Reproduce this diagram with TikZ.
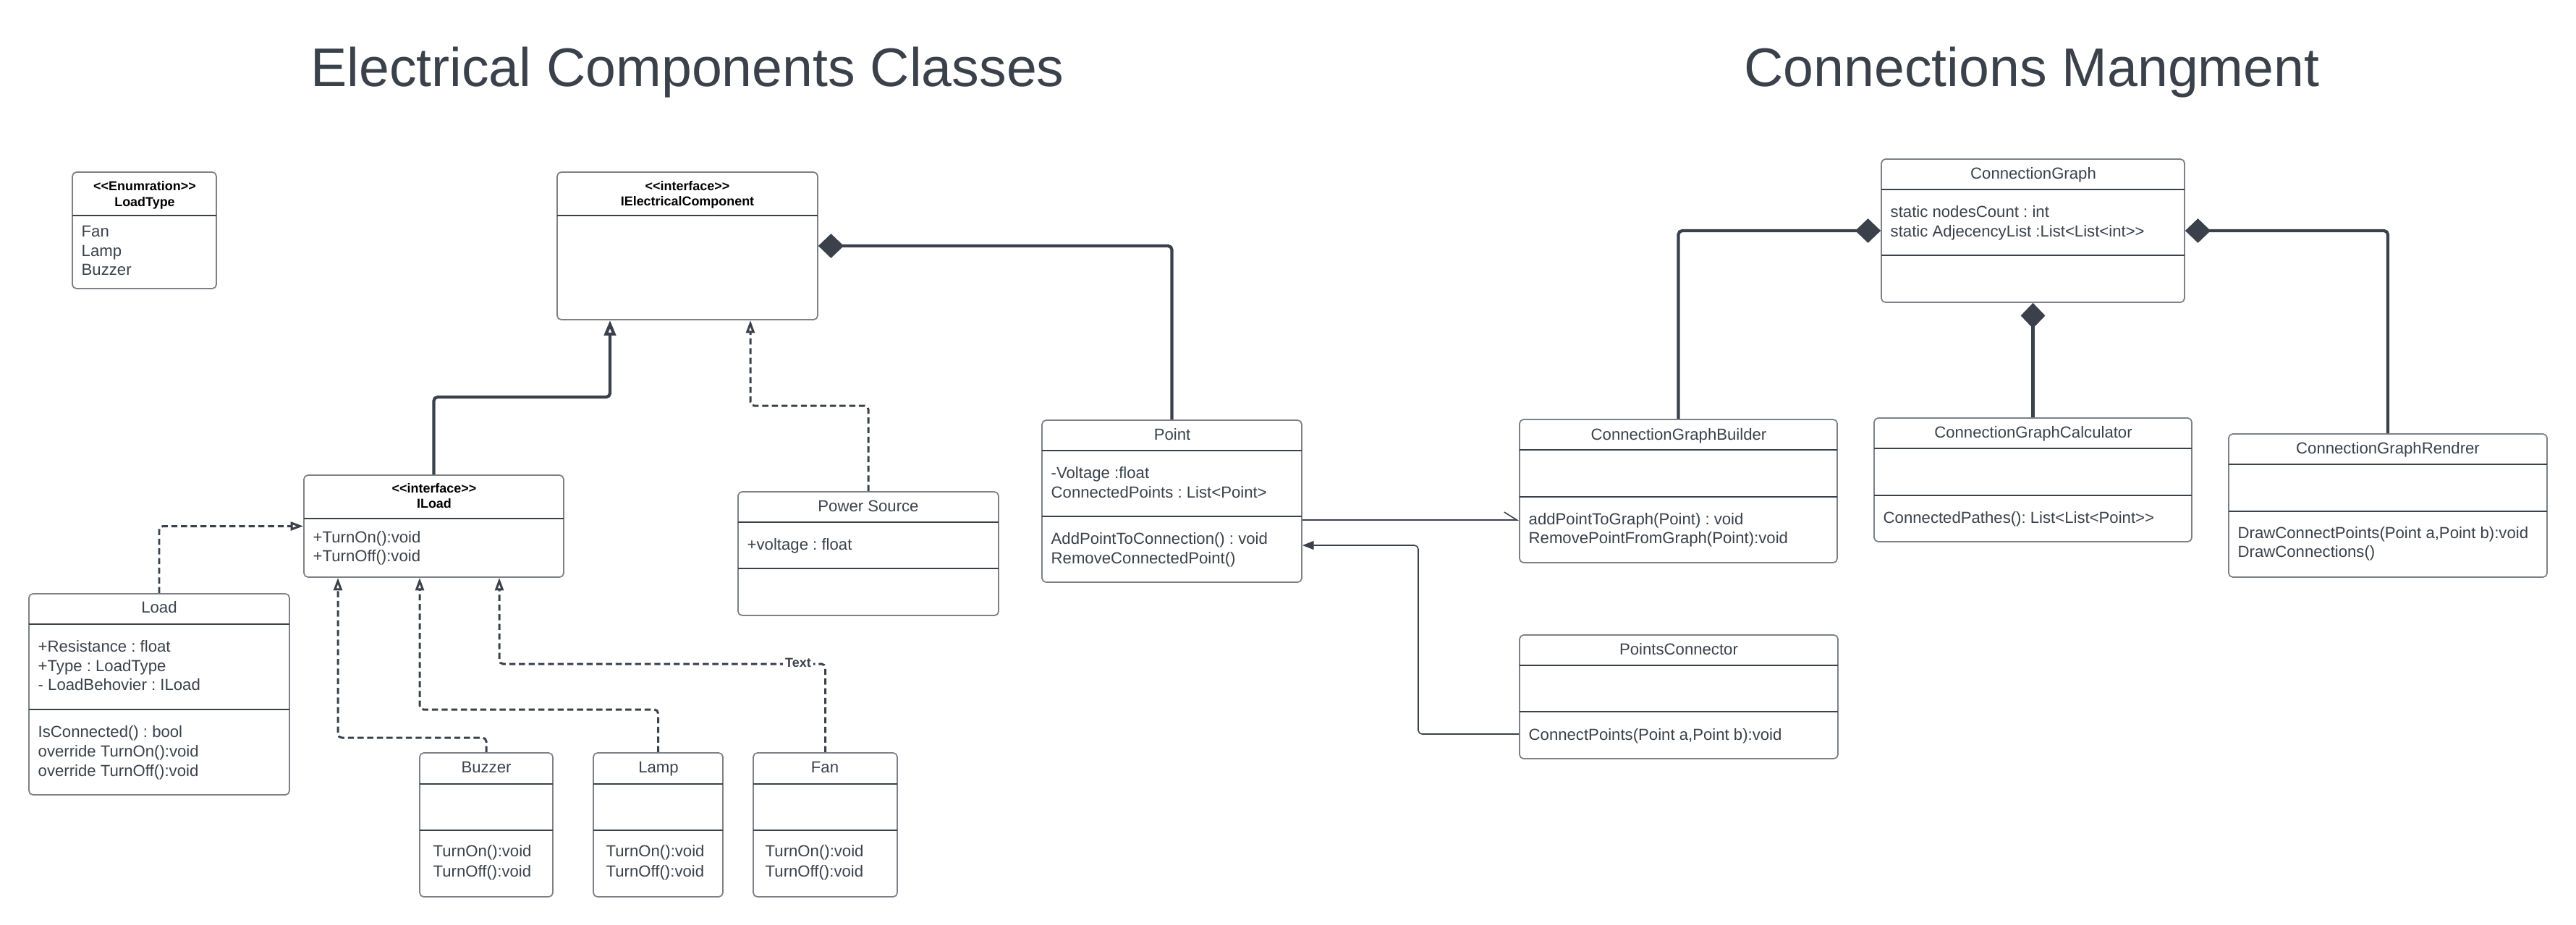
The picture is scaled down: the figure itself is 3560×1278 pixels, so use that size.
\documentclass[tikz,border=0pt]{standalone}
\usepackage{fontspec}
\newfontfamily\umlfont{Liberation Sans}
\usepackage{tikz}
\usetikzlibrary{arrows.meta}
\usetikzlibrary{fit}

\definecolor{umldark}{HTML}{3A414A}
\definecolor{umlgray}{HTML}{7D8187}

\tikzset{
  classbox/.style={draw=umlgray, line width=0.5pt, rounded corners=1.6pt, inner sep=0pt},
  divider/.style={draw=umldark, line width=0.45pt},
  ctitle/.style={font=\umlfont\frenchspacing\fontsize{6.3}{7.5}\selectfont, text=umldark, inner sep=0pt, anchor=base},
  member/.style={ctitle, anchor=base west},
  stereo/.style={font=\umlfont\bfseries\fontsize{5.1}{6}\selectfont, text=black, inner sep=0pt, anchor=base},
  heading/.style={font=\umlfont\fontsize{21.4}{25}\selectfont, text=umldark, inner sep=0pt, anchor=base},
  gen/.style={draw=umldark, line width=1.2pt, rounded corners=1.5pt, -{Triangle[open, length=6pt, width=4.6pt, fill=white]}},
  real/.style={draw=umldark, line width=0.85pt, dash pattern=on 2.4pt off 1.4pt, rounded corners=1.5pt, -{Triangle[open, length=5pt, width=3.4pt, fill=white]}},
  comp/.style={draw=umldark, line width=1.2pt, rounded corners=1.5pt, -{Diamond[length=10pt, width=9.6pt]}},
  assoc/.style={draw=umldark, line width=0.45pt, -{Straight Barb[left, length=5pt, width=6.2pt]}},
  dep/.style={draw=umldark, line width=0.45pt, rounded corners=1.5pt, -{Triangle[length=4.5pt, width=3.4pt]}},
}

\begin{document}
\begin{tikzpicture}[x=0.01cm, y=-0.01cm]
\useasboundingbox (0,0) rectangle (3560,1278);
\fill[white] (0,0) rectangle (3560,1278);

\node[heading] (T1) at (950,119) {Electrical Components Classes};
\node[heading] (T2) at (2808,119) {Connections Mangment};

% LoadType
\node[classbox, fit={(100,238) (299,399)}] (LoadType) {};
\draw[divider] (100,298) -- (299,298);
\node[stereo] (LoadTypeS) at (200,263) {<<Enumration>>};
\node[stereo] (LoadTypeN) at (200,285) {LoadType};
\node[member] (LoadType1) at (112,327) {Fan};
\node[member] (LoadType2) at (112,354) {Lamp};
\node[member] (LoadType3) at (112,380) {Buzzer};

% IElectricalComponent
\node[classbox, fit={(770,238) (1130,442)}] (IEC) {};
\draw[divider] (770,298) -- (1130,298);
\node[stereo] (IECS) at (950,263) {<<interface>>};
\node[stereo] (IECN) at (950,284) {IElectricalComponent};

% ILoad
\node[classbox, fit={(420,657) (779,798)}] (ILoad) {};
\draw[divider] (420,717) -- (779,717);
\node[stereo] (ILoadS) at (600,681) {<<interface>>};
\node[stereo] (ILoadN) at (600,702) {ILoad};
\node[member] (ILoad1) at (432,750) {+TurnOn():void};
\node[member] (ILoad2) at (432,776) {+TurnOff():void};

% Load
\node[classbox, fit={(40,821) (400,1099)}] (Load) {};
\draw[divider] (40,863) -- (400,863);
\draw[divider] (40,981) -- (400,981);
\node[ctitle] (LoadN) at (220,847) {Load};
\node[member] (Load1) at (52,901) {+Resistance : float};
\node[member] (Load2) at (52,928) {+Type : LoadType};
\node[member] (Load3) at (52,954) {- LoadBehovier : ILoad};
\node[member] (Load4) at (52,1019) {IsConnected() : bool};
\node[member] (Load5) at (52,1046) {override TurnOn():void};
\node[member] (Load6) at (52,1073) {override TurnOff():void};

% Power Source
\node[classbox, fit={(1020,680) (1380,851)}] (PS) {};
\draw[divider] (1020,722) -- (1380,722);
\draw[divider] (1020,786) -- (1380,786);
\node[ctitle] (PSN) at (1200,707) {Power Source};
\node[member] (PS1) at (1032,760) {+voltage : float};

% Point
\node[classbox, fit={(1440,581) (1799,805)}] (Point) {};
\draw[divider] (1440,623) -- (1799,623);
\draw[divider] (1440,714) -- (1799,714);
\node[ctitle] (PointN) at (1620,608) {Point};
\node[member] (Point1) at (1452,661) {-Voltage :float};
\node[member] (Point2) at (1452,688) {ConnectedPoints : List<Point>};
\node[member] (Point3) at (1452,752) {AddPointToConnection() : void};
\node[member] (Point4) at (1452,779) {RemoveConnectedPoint()};

% Buzzer
\node[classbox, fit={(580,1041) (764,1240)}] (Buzzer) {};
\draw[divider] (580,1084) -- (764,1084);
\draw[divider] (580,1148) -- (764,1148);
\node[ctitle] (BuzzerN) at (672,1068) {Buzzer};
\node[member] (Buzzer1) at (598,1184) {TurnOn():void};
\node[member] (Buzzer2) at (598,1212) {TurnOff():void};

% Lamp
\node[classbox, fit={(820,1041) (999,1240)}] (Lamp) {};
\draw[divider] (820,1084) -- (999,1084);
\draw[divider] (820,1148) -- (999,1148);
\node[ctitle] (LampN) at (910,1068) {Lamp};
\node[member] (Lamp1) at (837,1184) {TurnOn():void};
\node[member] (Lamp2) at (837,1212) {TurnOff():void};

% Fan
\node[classbox, fit={(1041,1041) (1240,1240)}] (Fan) {};
\draw[divider] (1041,1084) -- (1240,1084);
\draw[divider] (1041,1148) -- (1240,1148);
\node[ctitle] (FanN) at (1140,1068) {Fan};
\node[member] (Fan1) at (1057,1184) {TurnOn():void};
\node[member] (Fan2) at (1057,1212) {TurnOff():void};

% ConnectionGraph
\node[classbox, fit={(2600,220) (3019,418)}] (CG) {};
\draw[divider] (2600,262) -- (3019,262);
\draw[divider] (2600,353) -- (3019,353);
\node[ctitle] (CGN) at (2810,247) {ConnectionGraph};
\node[member] (CG1) at (2612,300) {static nodesCount : int};
\node[member] (CG2) at (2612,327) {static AdjecencyList :List<List<int>>};

% ConnectionGraphBuilder
\node[classbox, fit={(2100,580) (2539,778)}] (Builder) {};
\draw[divider] (2100,622) -- (2539,622);
\draw[divider] (2100,687) -- (2539,687);
\node[ctitle] (BuilderN) at (2320,608) {ConnectionGraphBuilder};
\node[member] (Builder1) at (2112,725) {addPointToGraph(Point) : void};
\node[member] (Builder2) at (2112,751) {RemovePointFromGraph(Point):void};

% ConnectionGraphCalculator
\node[classbox, fit={(2590,578) (3029,749)}] (Calc) {};
\draw[divider] (2590,620) -- (3029,620);
\draw[divider] (2590,685) -- (3029,685);
\node[ctitle] (CalcN) at (2810,605) {ConnectionGraphCalculator};
\node[member] (Calc1) at (2602,723) {ConnectedPathes(): List<List<Point>>};

% ConnectionGraphRendrer
\node[classbox, fit={(3080,600) (3520,798)}] (Rend) {};
\draw[divider] (3080,642) -- (3520,642);
\draw[divider] (3080,707) -- (3520,707);
\node[ctitle] (RendN) at (3300,627) {ConnectionGraphRendrer};
\node[member] (Rend1) at (3092,744) {DrawConnectPoints(Point a,Point b):void};
\node[member] (Rend2) at (3092,770) {DrawConnections()};

% PointsConnector
\node[classbox, fit={(2100,878) (2540,1049)}] (PC) {};
\draw[divider] (2100,920) -- (2540,920);
\draw[divider] (2100,984) -- (2540,984);
\node[ctitle] (PCN) at (2320,905) {PointsConnector};
\node[member] (PC1) at (2112,1023) {ConnectPoints(Point a,Point b):void};

% bend points
\coordinate (g1) at (843,549);
\coordinate (r1) at (1037,561);
\coordinate (r3) at (467,1020);
\coordinate (r4) at (580,981);
\coordinate (r5) at (690,918);
\coordinate (pb) at (0,719);
\coordinate (k1) at (1960,1015);
\coordinate (k2) at (1960,754);

% inheritance / realization
\draw[gen] (ILoad.north) |- (g1) -- (g1 |- IEC.south);
\draw[real] (PS.north) |- (r1) -- (r1 |- IEC.south);
\draw[real] (Load.north) |- (ILoad.west);
\draw[real] (Buzzer.north) |- (r3) -- (r3 |- ILoad.south);
\draw[real] (Lamp.north) |- (r4) -- (r4 |- ILoad.south);
\draw[real] (Fan.north) |- (r5) -- (r5 |- ILoad.south);
\node[stereo, anchor=center, text=umldark, fill=white, inner sep=0.8pt] (FanLbl) at (1103,916) {Text};

% composition
\draw[comp] (Point.north) |- (IEC.east);
\draw[comp] (Builder.north) |- (CG.west);
\draw[comp] (Calc.north) -- (CG.south);
\draw[comp] (Rend.north) |- (CG.east);

% association
\draw[assoc] (Point.east |- pb) -- (Builder.west |- pb);
\draw[dep] (PC.west |- k1) -- (k1) -- (k2) -- (Point.east |- k2);
\end{tikzpicture}
\end{document}
